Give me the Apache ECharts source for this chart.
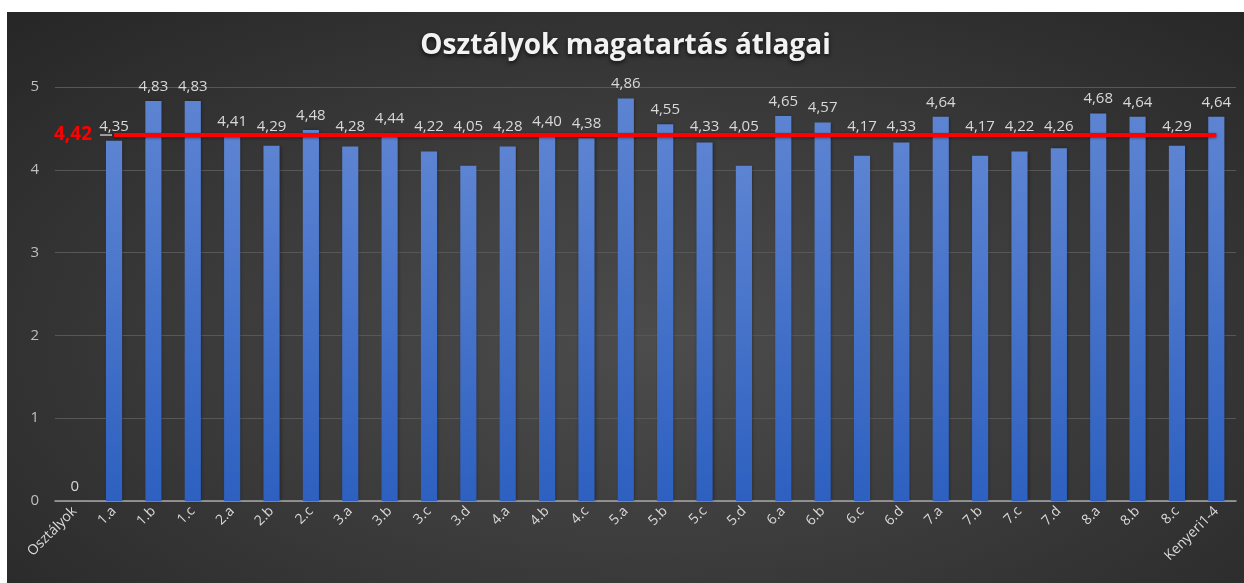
<!DOCTYPE html>
<html>
<head>
<meta charset="utf-8">
<script src="https://cdn.jsdelivr.net/npm/echarts@6/dist/echarts.min.js"></script>
<style>
  html, body { margin: 0; padding: 0; background: #ffffff; }
  #chart {
    position: absolute; left: 7px; top: 12px; width: 1237px; height: 571px;
    background: radial-gradient(ellipse farthest-corner at 52% 58%, #4c4c4c 0%, #3c3c3c 45%, #262626 100%);
  }
</style>
</head>
<body>
<div id="chart"></div>
<script>
const title = 'Osztályok magatartás átlagai';
const categories = ['Osztályok','1.a','1.b','1.c','2.a','2.b','2.c','3.a','3.b','3.c','3.d','4.a','4.b','4.c','5.a','5.b','5.c','5.d','6.a','6.b','6.c','6.d','7.a','7.b','7.c','7.d','8.a','8.b','8.c','Kenyeri1-4'];
const values = [0,4.35,4.83,4.83,4.41,4.29,4.48,4.28,4.44,4.22,4.05,4.28,4.40,4.38,4.86,4.55,4.33,4.05,4.65,4.57,4.17,4.33,4.64,4.17,4.22,4.26,4.68,4.64,4.29,4.64];
const average = 4.42;
const yTicks = [0, 1, 2, 3, 4, 5];

const fmt = v => v === 0 ? '0' : v.toFixed(2).replace('.', ',');
const lineData = categories.map((c, i) => i === 0 ? null : average);

const chart = echarts.init(document.getElementById('chart'), null, { renderer: 'canvas' });

function buildOption(offsets) {
  return {
    backgroundColor: 'transparent',
    title: {
      text: title,
      left: 'center',
      top: 15,
      textStyle: {
        fontFamily: 'Open Sans', fontWeight: 'bold', fontSize: 28, color: '#f2f2f2',
        textShadowColor: 'rgba(0,0,0,0.7)', textShadowBlur: 4, textShadowOffsetY: 2
      }
    },
    grid: { left: 48, right: 8, top: 75, bottom: 82, containLabel: false },
    xAxis: {
      type: 'category',
      data: categories,
      axisTick: { show: false },
      axisLine: { lineStyle: { color: '#a6a6a6', width: 1.5 } },
      axisLabel: {
        rotate: 45, color: '#d9d9d9', fontSize: 14, fontFamily: 'Open Sans',
        margin: 8, interval: 0
      }
    },
    yAxis: {
      type: 'value',
      min: yTicks[0], max: yTicks[yTicks.length - 1], interval: 1,
      axisLine: { show: false },
      axisTick: { show: false },
      axisLabel: { color: '#bfbfbf', fontSize: 15, fontFamily: 'Open Sans', margin: 16 },
      splitLine: { lineStyle: { color: '#575757', width: 1 } }
    },
    series: [
      {
        type: 'bar',
        barWidth: '41%',
        data: values.map((v, i) => ({
          value: v,
          label: { offset: [0, offsets ? offsets[i] : 0] }
        })),
        itemStyle: {
          color: new echarts.graphic.LinearGradient(0, 0, 0, 1, [
            { offset: 0, color: '#5d84d2' },
            { offset: 1, color: '#2d60c0' }
          ]),
          shadowColor: 'rgba(0,0,0,0.35)', shadowBlur: 3, shadowOffsetX: 1
        },
        label: {
          show: true, position: 'top', distance: 7,
          color: '#d9d9d9', fontSize: 15, fontFamily: 'Open Sans',
          formatter: p => fmt(p.value)
        },
        z: 2
      },
      {
        type: 'line',
        data: lineData.map((v, i) => i === 1 ? {
          value: v,
          label: {
            show: true, position: 'left', distance: 2,
            formatter: '{v|' + fmt(average) + '}{g|}',
            rich: {
              v: { color: '#ff0000', fontSize: 19, fontWeight: 'bold', fontFamily: 'Open Sans', padding: [0, 8, 0, 0] },
              g: { width: 12, height: 1.5, backgroundColor: '#bfbfbf' }
            }
          }
        } : v),
        symbol: 'circle', symbolSize: 0.1, showSymbol: true,
        itemStyle: { color: '#ff0000' },
        lineStyle: { color: '#ff0000', width: 4, shadowColor: 'rgba(0,0,0,0.5)', shadowBlur: 3, shadowOffsetY: 1 },
        label: { show: false },
        silent: true,
        animation: false,
        z: 3
      }
    ],
    animation: false
  };
}

chart.setOption(buildOption(null));
// lift labels of bars below the average line so they sit above it
const yLine = chart.convertToPixel({ yAxisIndex: 0 }, average);
const offsets = values.map(v => {
  if (v > 0 && v < average - 0.05) {
    const yBar = chart.convertToPixel({ yAxisIndex: 0 }, v);
    return (yLine - yBar) + 6;
  }
  return 0;
});
chart.setOption(buildOption(offsets));
</script>
</body>
</html>
